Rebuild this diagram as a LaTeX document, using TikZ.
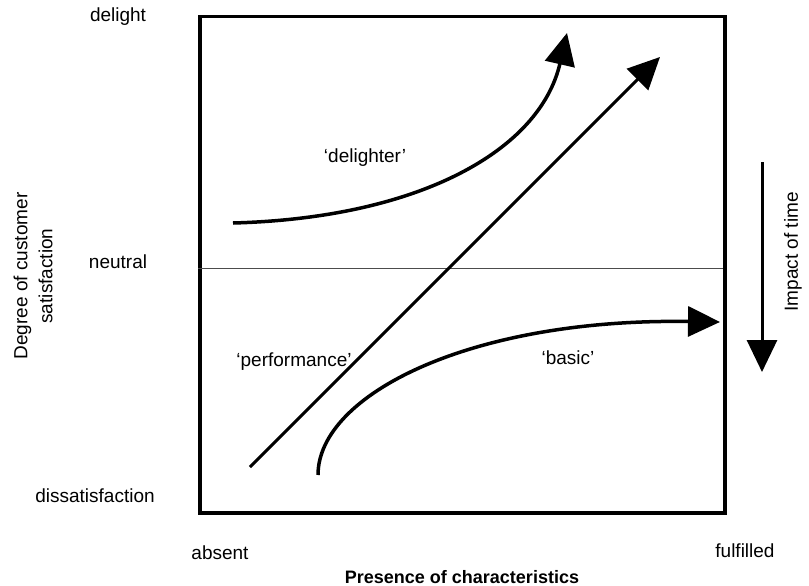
\documentclass[tikz,border=0pt]{standalone}
\usepackage{fontspec}
\setmainfont{Liberation Sans}
\usetikzlibrary{arrows.meta}
\begin{document}
\begin{tikzpicture}[x=1pt,y=-1pt,
  lbl/.style={font=\fontsize{19}{25}\selectfont, inner sep=0pt},
  boldlbl/.style={font=\fontsize{18}{22}\selectfont\bfseries, inner sep=0pt},
  curve/.style={line width=3.5pt, -{Triangle[length=32pt,width=30pt]}},
  frame/.style={draw, line width=3.5pt, inner sep=0pt, anchor=north west}]
\useasboundingbox (0,0) rectangle (809,586);
% frame
\node[frame, minimum width=525pt, minimum height=496pt] (box) at (198,15) {};
\coordinate (n1) at (198,268);
\coordinate (n2) at (723,268);
\draw[line width=1pt, black!70] (n1) -- (n2);
% axis labels
\node[lbl] (delight) at (118,17) {delight};
\node[lbl] (neutral) at (118,262) {neutral};
\node[lbl] (dissat) at (95,496) {dissatisfaction};
\node[lbl, rotate=90, align=center] (ylab) at (33,276) {Degree of customer\\satisfaction};
\node[lbl] (absent) at (220,553) {absent};
\node[lbl] (fulfilled) at (745,551) {fulfilled};
\node[boldlbl] (xlab) at (462,577) {Presence of characteristics};
\node[lbl, rotate=90] (time) at (793,252) {Impact of time};
% curve labels
\node[lbl] (ldel) at (365,158) {`delighter'};
\node[lbl] (lperf) at (294,362) {`performance'};
\node[lbl] (lbas) at (568,358) {`basic'};
% curves
\coordinate (d0) at (233,223);
\coordinate (d1) at (567,33);
\draw[curve] (d0) .. controls (420,218) and (540,150) .. (d1);
\coordinate (p0) at (250,467);
\coordinate (p1) at (660,57);
\draw[curve, line width=3pt] (p0) -- (p1);
\coordinate (b0) at (318,475);
\coordinate (b1) at (720,322);
\draw[curve] (b0) .. controls (318,395) and (470,318) .. (b1);
% impact of time
\coordinate (t0) at (762,162);
\coordinate (t1) at (762,372);
\draw[curve, line width=3pt] (t0) -- (t1);
\end{tikzpicture}
\end{document}
